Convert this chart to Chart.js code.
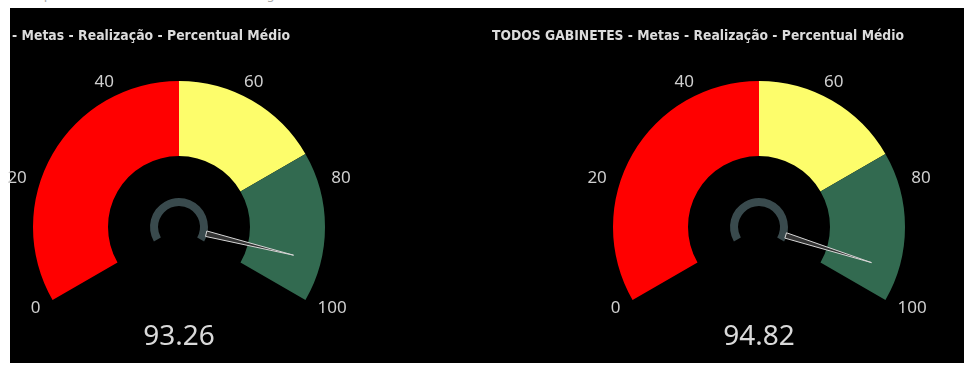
<!DOCTYPE html>
<html><head><meta charset="utf-8">
<script src="https://cdn.jsdelivr.net/npm/chart.js@4.4.1/dist/chart.umd.min.js"></script>
<style>
html,body{margin:0;padding:0;background:#fff;width:964px;height:367px;overflow:hidden;position:relative}
#panel{position:absolute;left:10px;top:8px;width:954px;height:355px;background:#000}
#cut{position:absolute;left:14px;top:-13px;font:13px 'DejaVu Sans';color:#aaa;white-space:nowrap}
.holder{position:absolute;top:0;height:367px}
</style></head><body>
<div id="cut">Comparativo do resultado de todos os gabinetes</div>
<div id="panel"></div>
<div class="holder" style="left:0;width:480px"><canvas id="c1" width="480" height="367"></canvas></div>
<div class="holder" style="left:480px;width:484px"><canvas id="c2" width="484" height="367"></canvas></div>
<script>
// ---- data ----
const bandValues = [50, 25, 25];          // red, yellow, green ranges (0-50, 50-75, 75-100)
const tickLabels = [0, 20, 40, 60, 80, 100];
const gaugeValues = [93.26, 94.82];
const gaugeTitles = [
  "- Metas - Realização - Percentual Médio",
  "TODOS GABINETES - Metas - Realização - Percentual Médio"
];

// ---- styles ----
const bandColors = ['#FF0000', '#FDFD6B', '#326A50'];
const hubColor = '#394A4D';

const gaugePlugin = {
  id: 'gauge',
  afterDatasetsDraw(chart, args, opts) {
    const ctx = chart.ctx;
    const meta = chart.getDatasetMeta(0);
    const arcs = meta.data;
    const cx = arcs[0].x, cy = arcs[0].y;
    const start = arcs[0].startAngle, end = arcs[arcs.length - 1].endAngle;
    const max = bandValues.reduce((a, b) => a + b, 0);
    const ang = v => start + (v / max) * (end - start);

    // tick labels
    ctx.save();
    ctx.font = '17px "Noto Sans"';
    ctx.fillStyle = '#cfcfcf';
    ctx.textBaseline = 'middle';
    const rl = 160;
    tickLabels.forEach(t => {
      const a = ang(t);
      const c = Math.cos(a), s = Math.sin(a);
      ctx.textAlign = c > 0.15 ? 'left' : (c < -0.15 ? 'right' : 'center');
      ctx.fillText(String(t), cx + rl * c, cy + rl * s + 1);
    });
    ctx.restore();

    // needle
    const a = ang(opts.value);
    const c = Math.cos(a), s = Math.sin(a);
    const r0 = 28, r1 = 118, hw = 2.8;
    ctx.save();
    ctx.beginPath();
    ctx.moveTo(cx + r0 * c - hw * s, cy + r0 * s + hw * c);
    ctx.lineTo(cx + r1 * c, cy + r1 * s);
    ctx.lineTo(cx + r0 * c + hw * s, cy + r0 * s - hw * c);
    ctx.closePath();
    ctx.fillStyle = '#333';
    ctx.fill();
    ctx.strokeStyle = '#d6d6d6';
    ctx.lineWidth = 1;
    ctx.stroke();
    ctx.restore();

    // value text
    ctx.save();
    ctx.font = '28px "Noto Sans"';
    ctx.fillStyle = '#d9d9d9';
    ctx.textAlign = 'center';
    ctx.textBaseline = 'middle';
    ctx.fillText(opts.value.toFixed(2), cx, 337);
    ctx.restore();

    // title
    ctx.save();
    ctx.font = 'bold 14px "DejaVu Sans Condensed"';
    ctx.fillStyle = '#dcdcdc';
    ctx.textAlign = 'left';
    ctx.textBaseline = 'middle';
    ctx.fillText(opts.title, opts.titleX, 36, opts.titleW);
    ctx.restore();
  }
};

function makeGauge(id, idx, pad, titleX, titleW) {
  new Chart(document.getElementById(id), {
    type: 'doughnut',
    data: {
      labels: ['0-50', '50-75', '75-100'],
      datasets: [
        { data: bandValues, backgroundColor: bandColors, borderWidth: 0, weight: 75 },
        { data: [1], backgroundColor: ['rgba(0,0,0,0)'], borderWidth: 0, weight: 42 },
        { data: [1], backgroundColor: [hubColor], borderWidth: 0, weight: 8 }
      ]
    },
    options: {
      responsive: false,
      animation: false,
      events: [],
      rotation: -120,
      circumference: 240,
      radius: 146,
      cutout: '14.38%',
      layout: { padding: pad },
      plugins: {
        legend: { display: false },
        tooltip: { enabled: false },
        gauge: { value: gaugeValues[idx], title: gaugeTitles[idx], titleX: titleX, titleW: titleW }
      }
    },
    plugins: [gaugePlugin]
  });
}

makeGauge('c1', 0, { left: 20, right: 142, top: 60, bottom: 46 }, 12, 278);
makeGauge('c2', 1, { left: 110, right: 36, top: 60, bottom: 46 }, 12, 412);
</script>
</body></html>
